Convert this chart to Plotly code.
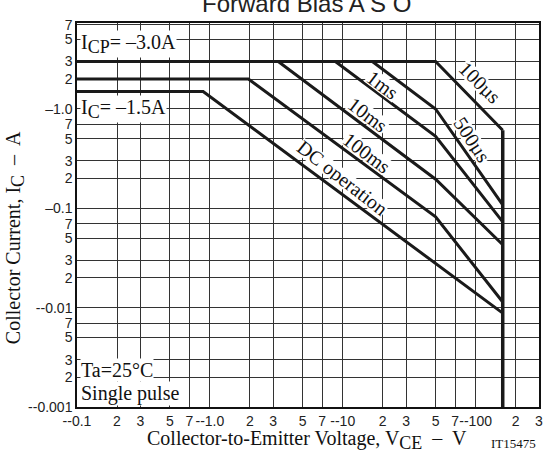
import numpy as np
import plotly.graph_objects as go

# ---------------- data ----------------
curve_names = ["100µs", "500µs", "1ms", "10ms", "100ms", "DC operation"]
v_100us = [0.1, 50, 160]
i_100us = [3.0, 3.0, 0.61]
v_500us = [0.1, 16.7, 50, 160]
i_500us = [3.0, 3.0, 1.0, 0.108]
v_1ms = [0.1, 8.8, 50, 160]
i_1ms = [3.0, 3.0, 0.53, 0.073]
v_10ms = [0.1, 3.27, 50, 160]
i_10ms = [3.0, 3.0, 0.196, 0.043]
v_100ms = [0.1, 1.95, 50, 160]
i_100ms = [2.0, 2.0, 0.082, 0.0114]
v_dc = [0.1, 0.89, 160]
i_dc = [1.5, 1.5, 0.0088]
v_vceo = [160, 160]
i_vceo = [0.61, 0.001]

x_tickvals = [0.1, 0.2, 0.3, 0.5, 0.7, 1, 2, 3, 5, 7, 10, 20, 30, 50, 70, 100, 200, 300]
x_ticktext = ["--0.1", "2", "3", "5", "7", "--1.0", "2", "3", "5", "7",
              "--10", "2", "3", "5", "7", "--100", "2", "3"]
y_tickvals = [0.001, 0.002, 0.003, 0.005, 0.007, 0.01, 0.02, 0.03, 0.05, 0.07,
              0.1, 0.2, 0.3, 0.5, 0.7, 1, 2, 3, 5, 7]
y_ticktext = ["--0.001", "2", "3", "5", "7", "--0.01", "2", "3", "5", "7",
              "–0.1", "2", "3", "5", "7", "–1.0", "2", "3", "5", "7"]

SERIF = "Liberation Serif, Times New Roman, serif"
SANS = "Liberation Sans, Arial, sans-serif"

fig = go.Figure()
series = [(v_100us, i_100us), (v_500us, i_500us), (v_1ms, i_1ms),
          (v_10ms, i_10ms), (v_100ms, i_100ms), (v_dc, i_dc)]
for name, (v, i) in zip(curve_names, series):
    fig.add_trace(go.Scatter(x=v, y=i, mode="lines", name=name,
                             line=dict(color="#1a1a1a", width=3), showlegend=False))
fig.add_trace(go.Scatter(x=v_vceo, y=i_vceo, mode="lines", showlegend=False,
                         line=dict(color="#1a1a1a", width=3.5)))

grid = "#333333"
common = dict(type="log", showgrid=True, gridcolor=grid, gridwidth=1,
              showline=True, linecolor="#111", linewidth=1.5, mirror=True,
              ticks="", zeroline=False, tickangle=0, layer="below traces",
              tickfont=dict(family=SANS, size=14, color="#222"))
fig.update_layout(
    xaxis=dict(range=[-1, float(np.log10(300))], tickmode="array",
               tickvals=x_tickvals, ticktext=x_ticktext,
               minor=dict(tickmode="array", tickvals=x_tickvals, showgrid=True,
                          gridcolor=grid, gridwidth=1, ticks=""),
               **common),
    yaxis=dict(range=[-3, 0.865], tickmode="array",
               tickvals=y_tickvals, ticktext=y_ticktext,
               minor=dict(tickmode="array", tickvals=y_tickvals, showgrid=True,
                          gridcolor=grid, gridwidth=1, ticks=""),
               **common),
)

def sub(s, px=18):
    return f"<sub><span style='font-size:{px}px'>{s}</span></sub>"

anns = []
def lab(text, x, y, angle=0, size=20, xanchor="center", bg=True, h=None):
    d = dict(text=text, x=x, y=y, xref="x", yref="y", showarrow=False,
             textangle=angle, xanchor=xanchor, yanchor="middle",
             font=dict(family=SERIF, size=size, color="#111"),
             borderpad=0)
    if bg:
        d["bgcolor"] = "white"
    if h:
        d["height"] = h
    anns.append(d)

lab("I" + sub("CP") + "= –3.0A", -0.977, 0.655, xanchor="left")
lab("I" + sub("C") + "= –1.5A", -0.977, 0.0, xanchor="left")
lab("Ta=25°C", -0.977, -2.63, xanchor="left")
lab("Single pulse", -0.977, -2.86, xanchor="left")
lab("1ms", 1.302, 0.242, angle=37, h=16)
lab("10ms", 1.190, -0.060, angle=37, h=16)
lab("100ms", 1.182, -0.443, angle=37, h=16)
lab("DC operation", 0.994, -0.695, angle=38, h=16)
lab("100µs", 2.032, 0.262, angle=45, h=16)
lab("500µs", 1.972, -0.312, angle=57, h=16)

anns.append(dict(text="Forward Bias A S O", xref="paper", yref="paper",
                 x=0.496, y=1, xanchor="center", yanchor="bottom", yshift=4,
                 showarrow=False, font=dict(family=SANS, size=24, color="#222")))
anns.append(dict(text="Collector Current, I" + sub("C") + "  –  A", xref="paper", yref="paper",
                 x=-0.134, y=0.44, xanchor="center", yanchor="middle", textangle=-90,
                 showarrow=False, font=dict(family=SERIF, size=20, color="#111")))
anns.append(dict(text="Collector-to-Emitter Voltage, V" + sub("CE") + "  –  V", xref="paper",
                 yref="paper", x=0.498, y=-0.086, xanchor="center", yanchor="middle",
                 showarrow=False, font=dict(family=SERIF, size=20, color="#111")))
anns.append(dict(text="IT15475", xref="paper", yref="paper", x=0.944, y=-0.094,
                 xanchor="center", yanchor="middle", showarrow=False,
                 font=dict(family=SERIF, size=13, color="#111")))

fig.update_layout(width=555, height=466, margin=dict(l=77, r=16, t=23, b=59),
                  paper_bgcolor="white", plot_bgcolor="white", annotations=anns)
fig.write_html("out.html")
